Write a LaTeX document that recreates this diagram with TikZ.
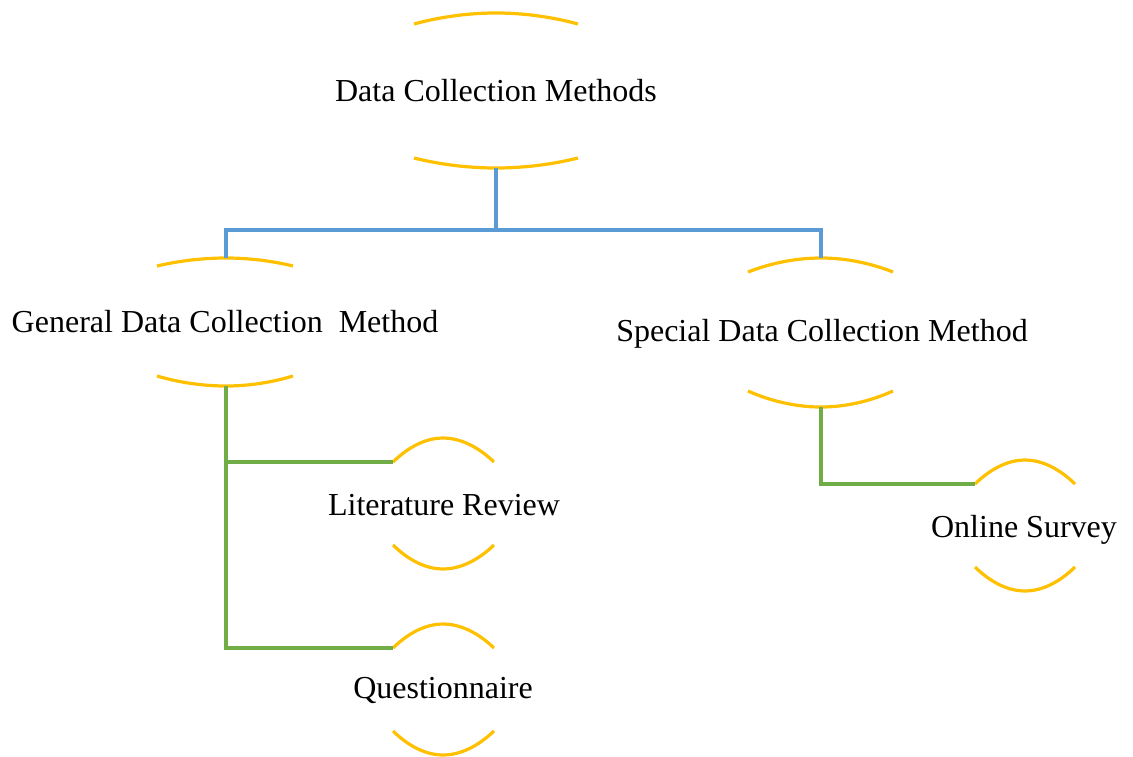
\documentclass[tikz,border=0pt]{standalone}
\usepackage{fontspec}
\setmainfont{Liberation Serif}
\definecolor{arcc}{HTML}{FFC000}
\definecolor{blu}{HTML}{5B9BD5}
\definecolor{grn}{HTML}{70AD47}
\begin{document}
\begin{tikzpicture}[x=1pt,y=-1pt,
 lbl/.style={font=\fontsize{32}{38}\selectfont, inner sep=0pt, anchor=base},
 arcline/.style={draw=arcc, line width=3.2pt},
 blueline/.style={draw=blu, line width=3.2pt},
 greenline/.style={draw=grn, line width=3.2pt}]
\useasboundingbox (0,0) rectangle (1133,756);
% labels
\node[lbl] (dcm) at (496,101) {Data Collection Methods};
\node[lbl] (gdm) at (225,332) {General Data Collection~ Method};
\node[lbl] (sdm) at (822,341) {Special Data Collection Method};
\node[lbl] (lr) at (444,515) {Literature Review};
\node[lbl] (qn) at (443,698) {Questionnaire};
\node[lbl] (os) at (1024,537) {Online Survey};
% arc anchor points
\coordinate (dcm-b) at (496,168);
\coordinate (gdm-t) at (226,258);
\coordinate (gdm-b) at (226,386);
\coordinate (sdm-t) at (821,258);
\coordinate (sdm-b) at (821,407);
\coordinate (lr-w) at (393,462);
\coordinate (qn-w) at (393,648);
\coordinate (os-w) at (975,484);
\coordinate (jn) at (496,230);
% arcs
\draw[arcline] (414,24) parabola bend (496,13) (578,24);
\draw[arcline] (414,158) parabola bend (dcm-b) (578,158);
\draw[arcline] (157,266) parabola bend (gdm-t) (293,266);
\draw[arcline] (157,376) parabola bend (gdm-b) (293,376);
\draw[arcline] (748,272) parabola bend (sdm-t) (893,272);
\draw[arcline] (748,391) parabola bend (sdm-b) (893,391);
\draw[arcline] (lr-w) parabola bend (443,438) (494,462);
\draw[arcline] (393,545) parabola bend (443,569) (494,545);
\draw[arcline] (qn-w) parabola bend (443,624) (494,648);
\draw[arcline] (393,731) parabola bend (443,755) (494,731);
\draw[arcline] (os-w) parabola bend (1025,460) (1075,484);
\draw[arcline] (975,567) parabola bend (1025,591) (1075,567);
% connectors
\draw[blueline] (dcm-b) -- (jn);
\draw[blueline] (jn) -| (gdm-t);
\draw[blueline] (jn) -| (sdm-t);
\draw[greenline] (gdm-b) |- (lr-w);
\draw[greenline] (gdm-b) |- (qn-w);
\draw[greenline] (sdm-b) |- (os-w);
\end{tikzpicture}
\end{document}
